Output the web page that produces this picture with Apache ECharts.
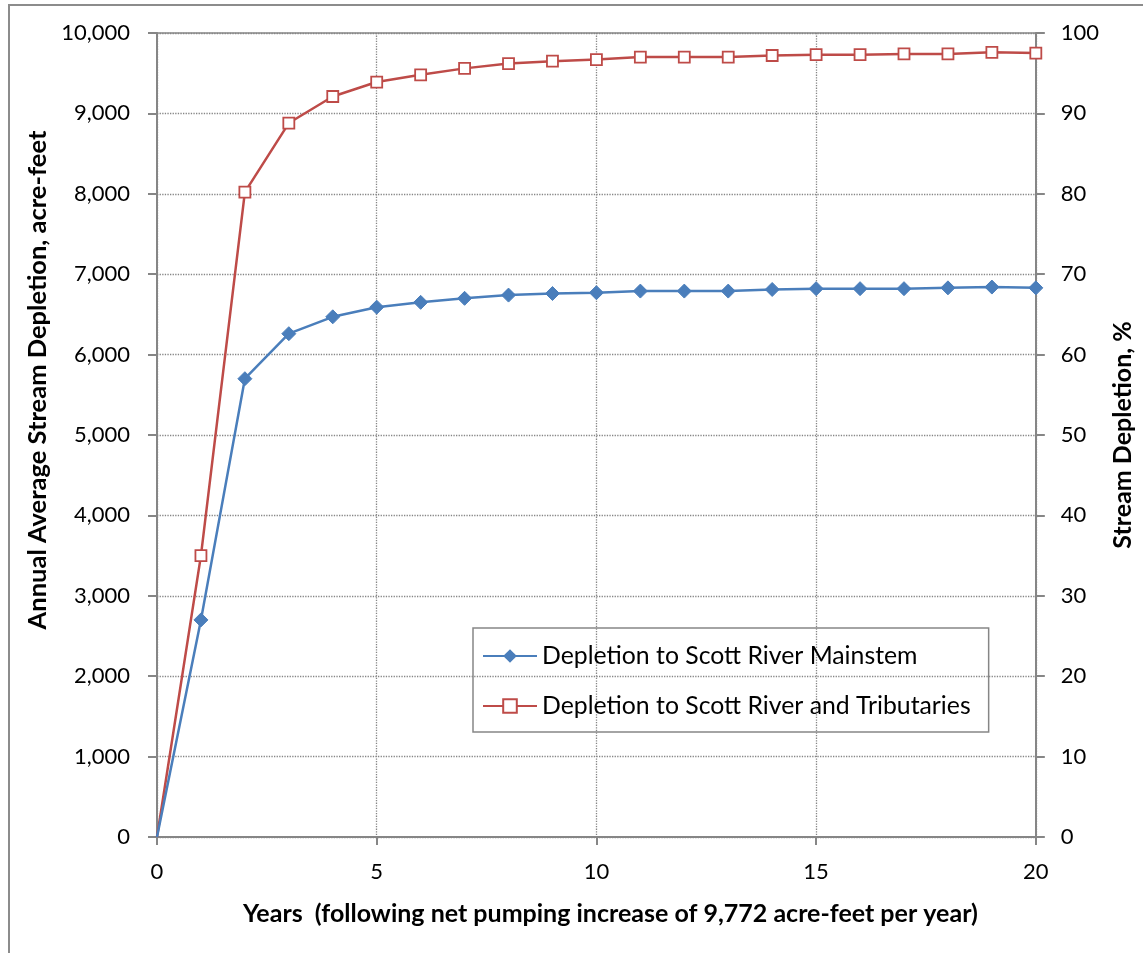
<!DOCTYPE html>
<html>
<head>
<meta charset="utf-8">
<script src="https://cdn.jsdelivr.net/npm/echarts@6/dist/echarts.min.js"></script>
<style>
  html, body { margin: 0; padding: 0; background: #fff; }
  #frame { position: absolute; left: 8px; top: 4px; width: 1160px; height: 980px; border-left: 2px solid #8c8c8c; border-top: 2px solid #8c8c8c; box-sizing: border-box; }
  #main { position: absolute; left: 0; top: 0; width: 1143px; height: 953px; }
</style>
</head>
<body>
<div id="frame"></div>
<div id="main"></div>
<script>
var years = [0,1,2,3,4,5,6,7,8,9,10,11,12,13,14,15,16,17,18,19,20];
var mainstem = [0,2700,5700,6260,6470,6590,6650,6700,6740,6760,6770,6790,6790,6790,6810,6820,6820,6820,6830,6840,6830];
var tributaries = [0,3500,8020,8880,9210,9390,9480,9560,9620,9650,9670,9700,9700,9700,9720,9730,9730,9740,9740,9760,9750];
var xTitle = 'Years  (following net pumping increase of 9,772 acre-feet per year)';
var yTitleLeft = 'Annual Average Stream Depletion, acre-feet';
var yTitleRight = 'Stream Depletion, %';

function pts(vals){
    return years.map(function(y, i){
        var d = {value: [y, vals[i]]};
        if (i === 0) d.symbol = 'none';
        return d;
    });
}

var font = 'Lato, "Open Sans", sans-serif';
var axisGray = '#868686';
var tickSize = 22;
var titleSize = 25;

var chart = echarts.init(document.getElementById('main'), null, {renderer: 'canvas'});
var option = {
    animation: false,
    backgroundColor: 'transparent',
    textStyle: {fontFamily: font},
    grid: {left: 157, right: 107, top: 33, bottom: 116, show: true, borderColor: axisGray, borderWidth: 1.5},
    legend: {
        orient: 'vertical',
        left: 473, top: 628,
        padding: [14, 18, 12, 9],
        itemGap: 22,
        itemWidth: 54, itemHeight: 17,
        borderColor: axisGray, borderWidth: 1.5,
        textStyle: {fontSize: 24.8, color: '#000', fontFamily: font, lineHeight: 28},
        data: ['Depletion to Scott River Mainstem', 'Depletion to Scott River and Tributaries']
    },
    xAxis: {
        type: 'value', min: 0, max: 20, interval: 5,
        name: xTitle, nameLocation: 'middle', nameGap: 64,
        nameTextStyle: {fontSize: titleSize, fontWeight: 'bold', color: '#000', fontFamily: font, padding: [0, 0, 0, 28]},
        axisLine: {lineStyle: {color: axisGray, width: 2}},
        axisTick: {show: true, length: 8, lineStyle: {color: axisGray, width: 2}},
        axisLabel: {fontSize: tickSize, color: '#000', margin: 24, fontFamily: font},
        splitLine: {show: true, lineStyle: {color: axisGray, type: 'dotted', width: 1.3}}
    },
    yAxis: [{
        type: 'value', min: 0, max: 10000, interval: 1000,
        name: yTitleLeft, nameLocation: 'middle', nameGap: 105,
        nameTextStyle: {fontSize: 25.5, fontWeight: 'bold', color: '#000', fontFamily: font, padding: [0, 0, 0, 110]},
        axisLine: {show: true, lineStyle: {color: axisGray, width: 2}},
        axisTick: {show: true, length: 9, lineStyle: {color: axisGray, width: 2}},
        axisLabel: {fontSize: tickSize, color: '#000', margin: 27, fontFamily: font,
            formatter: function(v){ return v.toLocaleString('en-US'); }},
        splitLine: {show: true, lineStyle: {color: axisGray, type: 'dotted', width: 1.3}}
    }, {
        type: 'value', min: 0, max: 100, interval: 10, position: 'right',
        name: yTitleRight, nameLocation: 'middle', nameGap: 74,
        nameTextStyle: {fontSize: titleSize, fontWeight: 'bold', color: '#000', fontFamily: font},
        axisLine: {show: true, lineStyle: {color: axisGray, width: 2}},
        axisTick: {show: true, length: 9, lineStyle: {color: axisGray, width: 2}},
        axisLabel: {fontSize: tickSize, color: '#000', margin: 25, fontFamily: font},
        splitLine: {show: false}
    }],
    series: [
        {
            name: 'Depletion to Scott River Mainstem',
            type: 'line',
            data: pts(mainstem),
            symbol: 'diamond', symbolSize: 14,
            lineStyle: {color: '#4a7ebb', width: 2.5},
            itemStyle: {color: '#4a7ebb', borderColor: '#4a7ebb'},
            z: 3
        },
        {
            name: 'Depletion to Scott River and Tributaries',
            type: 'line',
            data: pts(tributaries),
            symbol: 'rect', symbolSize: 11,
            lineStyle: {color: '#be4b48', width: 2.5},
            itemStyle: {color: '#fff', borderColor: '#be4b48', borderWidth: 1.8},
            z: 2
        }
    ]
};
chart.setOption(option);
</script>
</body>
</html>
